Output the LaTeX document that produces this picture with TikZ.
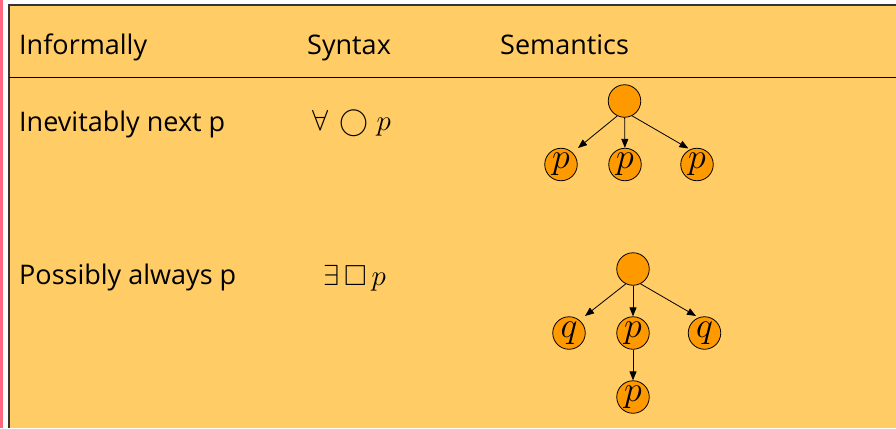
\RequirePackage{fix-cm}
\documentclass[tikz,border=0pt]{standalone}
\usepackage{amssymb}
\usepackage{fontspec}
\setmainfont{Open Sans}
\usetikzlibrary{arrows.meta}
\definecolor{bg}{HTML}{FFCC66}
\definecolor{nodeor}{HTML}{FF9900}
\definecolor{pinkbar}{HTML}{FF6680}
\begin{document}
\begin{tikzpicture}[x=1pt,y=-1pt,
  state/.style={circle,draw=black,line width=0.8pt,fill=nodeor,minimum size=32.5pt,inner sep=0pt,font=\fontsize{36}{36}\selectfont},
  lbl/.style={anchor=base west,inner sep=0pt,font=\fontsize{27}{30}\selectfont},
  mth/.style={anchor=base west,inner sep=0pt,font=\fontsize{29}{30}\selectfont},
  edge/.style={-{Triangle[length=9pt,width=7pt]},line width=0.8pt}]
\useasboundingbox (0,0) rectangle (896,428);
\fill[white] (0,0) rectangle (896,428);
\fill[pinkbar] (0,0) rectangle (2.5,428);
\fill[bg] (9,5) rectangle (896,428);
\draw[line width=1.5pt,black!80] (9,428) -- (9,5) -- (896,5);
\draw[line width=1pt] (9,77) -- (896,77);
% header
\node[lbl] (hinf) at (19,55) {Informally};
\node[lbl] (hsyn) at (307,55) {Syntax};
\node[lbl] (hsem) at (500,55) {Semantics};
% row 1
\node[lbl] (inf1) at (19,131) {Inevitably next p};
\node[mth] (syn1) at (312,130) {$\forall\mkern7mu{\bigcirc}\mkern5mu p$};
% row 2
\node[lbl] (inf2) at (19,284) {Possibly always p};
\node[mth] (syn2) at (323,285) {$\exists\mkern3mu\square\mkern3mu p$};
% tree 1
\node[state] (r1) at (624.5,101) {};
\node[state] (a1) at (561,164.5) {$p$};
\node[state] (b1) at (625,164.5) {$p$};
\node[state] (c1) at (697,164.5) {$p$};
\coordinate (a1t) at ([shift={(17,-16.5)}]a1.center);
\coordinate (c1t) at ([shift={(-8.6,-16)}]c1.center);
\draw[edge] (r1.-116) -- (a1t);
\draw[edge] (r1) -- (b1);
\draw[edge] (r1.-63) -- (c1t);
% tree 2
\node[state] (r2) at (633,269) {};
\node[state] (a2) at (569,333) {$q$};
\node[state] (b2) at (633,333) {$p$};
\node[state] (c2) at (704.5,333) {$q$};
\node[state] (d2) at (633,397) {$p$};
\coordinate (a2t) at ([shift={(16,-17)}]a2.center);
\coordinate (c2t) at ([shift={(-8.5,-17)}]c2.center);
\draw[edge] (r2.-116) -- (a2t);
\draw[edge] (r2) -- (b2);
\draw[edge] (r2.-63) -- (c2t);
\draw[edge] (b2) -- (d2);
\end{tikzpicture}
\end{document}
